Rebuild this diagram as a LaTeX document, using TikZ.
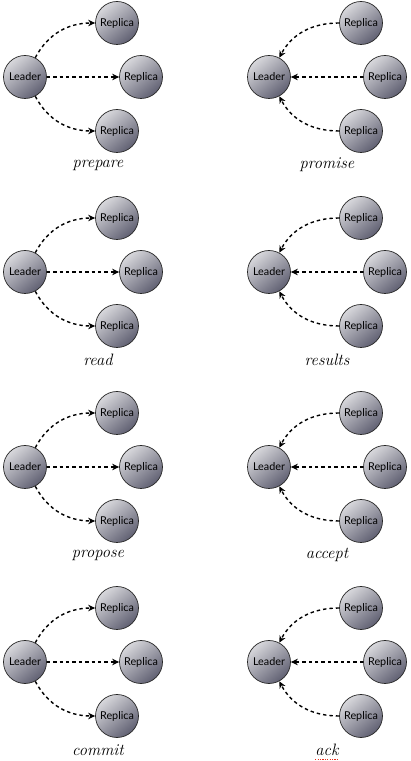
\documentclass[tikz,border=0pt]{standalone}
\usepackage{fontspec}
\setsansfont{Lato}
\usetikzlibrary{arrows.meta}
\definecolor{balltop}{RGB}{216,216,220}
\definecolor{ballbot}{RGB}{96,96,114}
\definecolor{spellred}{RGB}{230,40,20}
\begin{document}
\begin{tikzpicture}[x=1pt,y=1pt,
  ball/.style={circle,draw=black!85,line width=0.7pt,minimum size=43pt,inner sep=0pt,
    top color=balltop,bottom color=ballbot,shading angle=40,
    font=\sffamily\fontsize{10.8}{12}\selectfont},
  msg/.style={dash pattern=on 3.4pt off 3pt,line width=1.4pt,
    -{Stealth[length=7pt,width=6.5pt]}},
  lbl/.style={inner sep=0pt,font=\itshape\fontsize{16.5}{18}\selectfont},
  spell/.style={spellred,line width=1pt,dash pattern=on 1.2pt off 1.2pt}]
\fill[white] (0,0) rectangle (411,761);
\useasboundingbox (0,0) rectangle (411,761);
\foreach \r/\a/\b in {0/prepare/promise,1/read/results,2/propose/accept,3/commit/ack}{
  \pgfmathsetmacro\oy{195*\r}
  % left column
  \node[ball] (A\r) at (25,{684-\oy}) {Leader};
  \node[ball] (B\r) at (117,{738-\oy}) {Replica};
  \node[ball] (C\r) at (141,{684-\oy}) {Replica};
  \node[ball] (D\r) at (117,{630-\oy}) {Replica};
  \node[lbl] (la\r) at (98,{596-\oy}) {\a};
  \draw[msg] (A\r) to[out=62,in=180] (B\r);
  \draw[msg] (A\r) -- (C\r);
  \draw[msg] (A\r) to[out=-62,in=180] (D\r);
  % right column
  \node[ball] (E\r) at (269,{684-\oy}) {Leader};
  \node[ball] (F\r) at (361,{738-\oy}) {Replica};
  \node[ball] (G\r) at (385,{684-\oy}) {Replica};
  \node[ball] (H\r) at (361,{630-\oy}) {Replica};
  \node[lbl] (lb\r) at (327,{596-\oy}) {\b};
  \draw[msg] (F\r) to[out=180,in=62] (E\r);
  \draw[msg] (G\r) -- (E\r);
  \draw[msg] (H\r) to[out=180,in=-62] (E\r);
}
\draw[spell] ([yshift=-3.5pt]lb3.base west) -- ([yshift=-3.5pt]lb3.base east);
\end{tikzpicture}
\end{document}
